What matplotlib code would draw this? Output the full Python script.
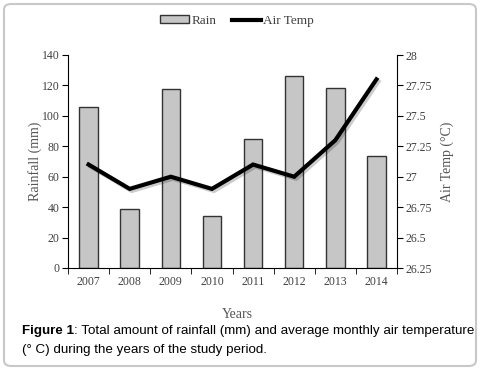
import matplotlib
matplotlib.use('Agg')
import matplotlib.pyplot as plt
import matplotlib.patheffects as pe
from matplotlib.patches import FancyBboxPatch
from matplotlib.lines import Line2D
from matplotlib.patches import Patch
import numpy as np

years = ['2007', '2008', '2009', '2010', '2011', '2012', '2013', '2014']
rain = [105.5, 39, 117.5, 34.5, 85, 126.5, 118, 73.5]
air_temp = [27.1, 26.9, 27.0, 26.9, 27.1, 27.0, 27.3, 27.8]

serif = 'Liberation Serif'
txt = '#404040'

fig = plt.figure(figsize=(4.83, 3.76), dpi=100)

# outer frame
frame = FancyBboxPatch((4 / 483, 1 - 366 / 376), 472 / 483, 362 / 376,
                       boxstyle='round,pad=0,rounding_size=0.015',
                       transform=fig.transFigure, fill=False,
                       edgecolor='#c8c8c8', lw=1.5)
fig.patches.append(frame)

ax = fig.add_axes([68 / 483, 1 - 268 / 376, 329 / 483, 213 / 376])
ax2 = ax.twinx()

x = np.arange(len(years))
ax.bar(x, rain, width=0.45, color='#c6c6c6', edgecolor='#333333', lw=1.0,
       zorder=2)
ax.set_xlim(-0.5, len(years) - 0.5)
ax.set_ylim(0, 140)
ax.set_yticks(np.arange(0, 141, 20))
ax.set_xticks(x)
ax.set_xticklabels(years)
ax.set_xticks(np.arange(-0.5, len(years), 1), minor=True)
ax.tick_params(axis='x', which='major', length=0, pad=6)
ax.tick_params(axis='x', which='minor', length=4, direction='out')
ax.tick_params(axis='y', length=4, direction='out', pad=2)
for s in ['top', 'right']:
    ax.spines[s].set_visible(False)
ax.spines['left'].set_color('black')
ax.spines['bottom'].set_color('black')

ax2.plot(x, air_temp, color='black', lw=3, solid_joinstyle='miter',
         path_effects=[pe.SimpleLineShadow(offset=(1.5, -1.5), alpha=0.2),
                       pe.Normal()])
ax2.set_ylim(26.25, 28)
ax2.set_yticks([26.25, 26.5, 26.75, 27, 27.25, 27.5, 27.75, 28])
ax2.set_yticklabels(['26.25', '26.5', '26.75', '27', '27.25', '27.5',
                     '27.75', '28'])
ax2.tick_params(axis='y', length=4, direction='out', pad=2)
for s in ['top', 'left', 'bottom']:
    ax2.spines[s].set_visible(False)

for a in (ax, ax2):
    for lab in a.get_xticklabels() + a.get_yticklabels():
        lab.set_fontfamily(serif)
        lab.set_fontsize(8.5)
        lab.set_color(txt)

ax.set_ylabel('Rainfall (mm)', fontfamily=serif, fontsize=10, color='#555555',
              labelpad=0)
ax2.set_ylabel('Air Temp (°C)', fontfamily=serif, fontsize=10, color='#555555',
               labelpad=6)
fig.text(237 / 483, 1 - 314 / 376, 'Years', fontfamily=serif, fontsize=10,
         color='#555555', ha='center', va='center')

handles = [Patch(facecolor='#c6c6c6', edgecolor='#333333', lw=1.0),
           Line2D([0], [0], color='black', lw=3)]
fig.legend(handles, ['Rain', 'Air Temp'], loc='center',
           bbox_to_anchor=(237 / 483, 1 - 21 / 376), ncol=2, frameon=False,
           prop={'family': serif, 'size': 9.5}, handlelength=2.2,
           handleheight=0.55, handletextpad=0.15, columnspacing=1.2,
           labelcolor=txt)

# caption
cap_y1 = 1 - 331 / 376
cap_y2 = 1 - 350 / 376
t1 = fig.text(22 / 483, cap_y1, 'Figure 1', fontfamily='Liberation Sans',
              fontsize=9.6, fontweight='bold', va='center')
fig.canvas.draw()
bb = t1.get_window_extent()
fig.text(bb.x1 / fig.bbox.width, cap_y1,
         ': Total amount of rainfall (mm) and average monthly air temperature',
         fontfamily='Liberation Sans', fontsize=9.6, va='center')
fig.text(22 / 483, cap_y2, '(° C) during the years of the study period.',
         fontfamily='Liberation Sans', fontsize=9.6, va='center')

fig.savefig('out.png', dpi=100)
